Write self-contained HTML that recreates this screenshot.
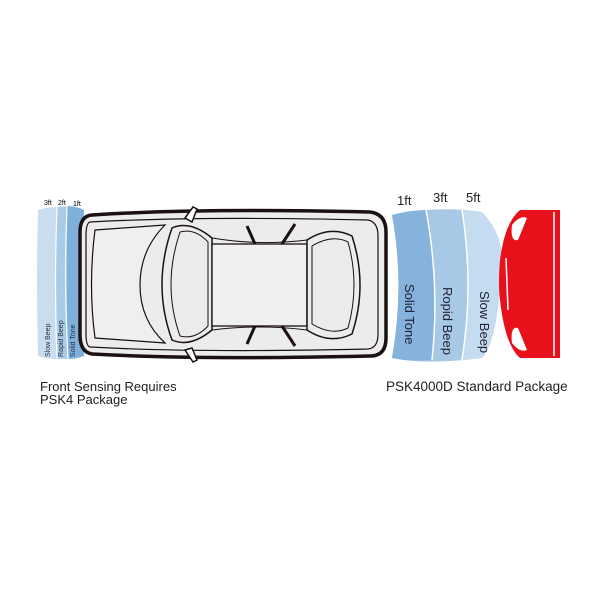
<!DOCTYPE html>
<html><head><meta charset="utf-8"><style>
html,body{margin:0;padding:0;background:#fff;}
svg{display:block}
text{font-family:"Liberation Sans",sans-serif;}
</style></head><body>
<svg width="600" height="600" viewBox="0 0 600 600">
<!-- left zones -->
<path d="M38 210 Q55 204 84 210 Q80 284 84 356 Q55 362 38 356 Q36 284 38 210Z" fill="#c9ddef"/>
<path d="M57 207 Q70 205 84 210 Q80 284 84 356 Q70 360 57 358 Q54 284 57 207Z" fill="#a9cbe8"/>
<path d="M67 206 Q76 206 84 210 Q80 284 84 356 Q76 359 68 359 Q64 284 67 206Z" fill="#7fb0dc"/>
<path d="M57 207 Q54 284 57 358 M67 206 Q64 284 68 359" stroke="#fff" stroke-width="1.2" fill="none"/>
<text x="44" y="205" font-size="7" font-family="Liberation Serif">3ft</text>
<text x="58" y="205" font-size="7" font-family="Liberation Serif">2ft</text>
<text x="73" y="206" font-size="7" font-family="Liberation Serif">1ft</text>
<text transform="translate(50,357) rotate(-90)" font-size="7" fill="#234">Slow Beep</text>
<text transform="translate(63,357) rotate(-90)" font-size="7" fill="#234">Rapid Beep</text>
<text transform="translate(75,357) rotate(-90)" font-size="7" fill="#234">Solid Tone</text>
<!-- car -->
<g stroke="#1a1110" fill="#ececec">
<path d="M92 215 Q200 208 370 212 Q386 214 386 232 L386 338 Q386 356 370 356 Q200 360 92 354 Q80 352 80 335 L80 232 Q80 216 92 215Z" stroke-width="3.5"/>
<path d="M90 222 Q200 216 368 220 Q378 222 378 236 L378 334 Q378 348 368 349 Q200 353 90 347 Q86 346 86 334 L86 236 Q86 223 90 222Z" stroke-width="1.2" fill="none"/>
<path d="M95 230 L165 225 Q140 250 140 285 Q140 320 165 343 L95 338 Q88 285 95 230Z" stroke-width="1.2" fill="#efefef"/>
<path d="M172 228 Q190 220 212 238 L212 330 Q190 348 172 340 Q152 285 172 228Z" stroke-width="1.5"/>
<path d="M180 232 Q195 228 208 242 L208 326 Q195 340 180 336 Q162 285 180 232Z" stroke-width="1" fill="none"/>
<path d="M212 238 Q260 246 307 240 M212 330 Q260 324 307 330" stroke-width="1" fill="none"/>
<rect x="212" y="244" width="95" height="82" stroke-width="1.3" fill="#f0f0f0"/>
<path d="M307 240 Q330 225 352 236 Q368 285 352 334 Q330 345 307 330Z" stroke-width="1.5"/>
<path d="M312 246 Q332 234 348 242 Q360 285 348 328 Q332 336 312 324Z" stroke-width="1" fill="none"/>
<path d="M247 226 L255 244 M295 224 L282 244 M247 344 L255 326 M295 346 L282 326" stroke-width="3" fill="none"/>
<path d="M185 218 L193 207 L197 209 L192 222Z M185 350 L193 362 L197 360 L192 348Z" stroke-width="1.5" fill="#fff"/>
</g>
<!-- right zones -->
<path d="M392 215 Q440 205 482 212 Q510 240 500 290 Q495 345 482 358 Q440 364 392 358 Q405 285 392 215Z" fill="#c5dbef"/>
<path d="M392 215 Q420 208 462 210 Q474 285 462 360 Q420 364 392 358 Q405 285 392 215Z" fill="#a8c9e6"/>
<path d="M392 215 Q410 210 426 210 Q440 285 432 360 Q410 362 392 358 Q405 285 392 215Z" fill="#85b3dc"/>
<path d="M426 210 Q440 285 432 360 M462 210 Q474 285 462 360" stroke="#fff" stroke-width="1.5" fill="none"/>
<text x="397" y="205" font-size="13" font-family="Liberation Serif" fill="#222">1ft</text>
<text x="433" y="202" font-size="13" font-family="Liberation Serif" fill="#222">3ft</text>
<text x="466" y="202" font-size="13" font-family="Liberation Serif" fill="#222">5ft</text>
<text transform="translate(405,284) rotate(90)" font-size="13" fill="#223">Solid Tone</text>
<text transform="translate(443,287) rotate(90)" font-size="13" fill="#223">Ropid Beep</text>
<text transform="translate(480,291) rotate(90)" font-size="13" fill="#223">Slow Beep</text>
<!-- red car -->
<path d="M520 210 L560 210 L560 358 L520 358 Q505 345 500 300 Q498 284 500 260 Q505 222 520 210Z" fill="#e8101a"/>
<path d="M512 225 Q520 215 527 218 L518 240 Q510 242 512 225Z M512 343 Q520 353 527 350 L518 328 Q510 326 512 343Z" fill="#fff"/>
<path d="M506 258 L508 310 M554 212 L554 356" stroke="#fff" stroke-width="1.5" fill="none"/>
<!-- labels -->
<text x="40" y="391" font-size="13" fill="#222">Front Sensing Requires</text>
<text x="40" y="404" font-size="13" fill="#222">PSK4 Package</text>
<text x="386" y="391" font-size="13.5" fill="#222">PSK4000D Standard Package</text>
</svg>
</body></html>
